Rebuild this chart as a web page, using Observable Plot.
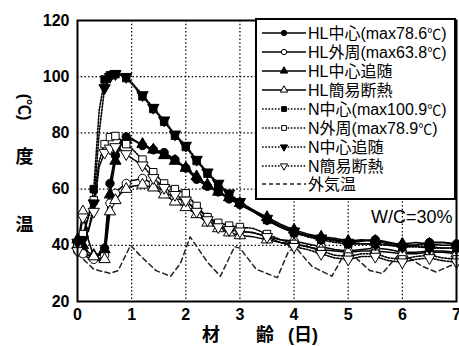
<!DOCTYPE html>
<html><head><meta charset="utf-8">
<script src="https://cdn.jsdelivr.net/npm/d3@7"></script>
<script src="https://cdn.jsdelivr.net/npm/@observablehq/plot@0.6"></script>
<style>
body{margin:0;background:#fff;}
#chart{width:459px;height:346px;}
svg{font-family:"Liberation Sans","Noto Sans CJK JP",sans-serif;}
</style></head><body><div id="chart"></div>
<script>
// ---- data ----
const days = [0,0.1,0.2,0.3,0.4,0.5,0.6,0.7,0.8,0.9,1.0,1.2,1.4,1.6,1.8,2.0,2.2,2.4,2.6,2.8,3.0,3.25,3.5,3.75,4.0,4.25,4.5,4.75,5.0,5.25,5.5,5.75,6.0,6.25,6.5,6.75,7.0];
const hlCenter      = [40,38,36.5,36,36.5,39,62,72,77,78.6,78,75.5,74,73,70.5,67.5,63.5,61,59,56.5,54.5,52,49,46.5,44.5,43.5,42.5,42,41,41.5,42,41,40,40,41,41,40.5];
const hlOuter       = [38,37,35.5,35,35,36.5,55,58.5,60.5,62,63,63.8,62,59,57,55.5,53,50,47,45.5,45,44.5,43,42,41.5,40.5,39.5,38.5,38,38.5,39,38.5,37.5,37.5,38,38,37.5];
const hlFollow      = [42,40,37.5,36.5,37,38.5,58,70,75.5,77.5,77.5,76,74,72,70,67.5,64.5,61.5,59,57,55,52.5,50,47.5,45.5,44,43,42.5,41.5,42,41.5,40.5,40.5,41,40.5,40,40];
const hlInsulated   = [40,52,42,36,34.5,35,52,56,58.5,60,61,61.5,60.5,58,55.5,53.5,51,48,46,44.5,43.5,43,42,41,40.5,39.5,38.5,38,37.5,38,38,37.5,37,37,37.5,37.5,37];
const nCenter       = [40,43,50,60,88,99,100.5,100.9,100.5,99.5,97.5,93,88.5,84,79,75,70,65.5,61.5,58,55,52,49,46.5,44.5,43,42,41,40.5,40.5,40.5,40,39.5,39.5,39.5,39,39];
const nOuter        = [40,44,50,56,70,76,78.5,78.9,77.5,76,74.5,70.5,66,62,60,58.5,54,50,48,47,46.5,46,44,42,40.5,39.5,38,36.5,36,37,37,35.5,35,36,36.5,35.5,35];
const nFollow       = [41,42,45,55,80,96,100,101,100.5,100,98,93.5,89,84.5,79.5,75.5,70.5,66,62,58.5,55.5,52.5,49.5,47,45,43.5,42.5,41.5,41,40.5,40.5,40,39.5,39.5,39,39,39];
const nInsulated    = [38,50,45,52,68,73,74.5,75,74,72.5,71,68.5,64,60.5,58,56,52,49,46.5,45.5,45,44.5,43,41,39.5,38.5,37,35.5,35,36,36,34.5,34,35,35.5,34.5,34];
const markerDays    = [0,0.1,0.3,0.5,0.6,0.7,0.9,1.2,1.4,1.6,1.8,2.0,2.2,2.4,2.6,2.8,3.0,3.5,4.0,4.5,5.0,5.5,6.0,6.5,7.0];
const outdoorDays   = [0,0.3,0.6,0.75,0.98,1.15,1.45,1.72,1.9,2.08,2.4,2.64,2.9,3.0,3.3,3.69,3.9,4.04,4.33,4.7,4.93,5.0,5.4,5.63,5.9,6.0,6.37,6.62,6.92,7.0];
const outdoorTemp   = [37,31.5,30,31,40,36.5,31,29,33.5,43,34,29,39.5,39,31.5,28.5,38,39,32.5,29,37,38,31,30,36,37,32.5,30.5,33,34];
const xTicks = [0,1,2,3,4,5,6,7];
const yTicks = [20,40,60,80,100,120];
const seriesNames = ["HL中心(max78.6℃)","HL外周(max63.8℃)","HL中心追随","HL簡易断熱","N中心(max100.9℃)","N外周(max78.9℃)","N中心追随","N簡易断熱","外気温"];
const xLabelParts = ["材","齢","(日)"];
const yLabelParts = ["温","度","(℃)"];
const noteText = "W/C=30%";

// ---- styling ----
const downTriangle = {draw(context,size){const s3=Math.sqrt(3);const y=Math.sqrt(size/(s3*3));context.moveTo(0,y*2);context.lineTo(-s3*y,-y);context.lineTo(s3*y,-y);context.closePath();}};
const upTriangle = d3.symbolTriangle;
const dotted = "1.6,1.6";
const R = 4.2;
const specs = [
  {values:hlCenter,    symbol:d3.symbolCircle, fill:"black", dash:null, sw:2},
  {values:hlOuter,     symbol:d3.symbolCircle, fill:"white", dash:null, sw:1.5},
  {values:hlFollow,    symbol:upTriangle,      fill:"black", dash:null, sw:1.5},
  {values:hlInsulated, symbol:upTriangle,      fill:"white", dash:null, sw:1.5},
  {values:nCenter,     symbol:d3.symbolSquare, fill:"black", dash:dotted, sw:1.6},
  {values:nOuter,      symbol:d3.symbolSquare, fill:"white", dash:dotted, sw:1.6},
  {values:nFollow,     symbol:downTriangle,    fill:"black", dash:dotted, sw:1.6},
  {values:nInsulated,  symbol:downTriangle,    fill:"white", dash:dotted, sw:1.6}
];
const markerSet = new Set(markerDays);
specs.forEach((s,i)=>{
  s.name=seriesNames[i];
  s.rows=days.map((d,j)=>({day:d,temp:s.values[j]}));
  s.markerRows=s.rows.filter(r=>markerSet.has(r.day));
});
const outdoorRows = outdoorDays.map((d,i)=>({day:d,temp:outdoorTemp[i]}));

const lab = {text:d=>d, fontWeight:"bold", textAnchor:"middle", lineAnchor:"middle"};
const marks = [
  Plot.gridX(xTicks.slice(1,-1), {stroke:"black", strokeOpacity:1, strokeWidth:1.2, strokeDasharray:"1.5,2.2"}),
  Plot.gridY(yTicks.slice(1,-1), {stroke:"black", strokeOpacity:1, strokeWidth:1.2, strokeDasharray:"1.5,2.2"}),
  Plot.line(outdoorRows, {x:"day", y:"temp", stroke:"#222", strokeWidth:1.5, strokeDasharray:"5,3.5"})
];
specs.forEach(s=>{
  marks.push(Plot.line(s.rows, {x:"day", y:"temp", stroke:"black", strokeWidth:s.sw, strokeDasharray:s.dash}));
});
specs.forEach(s=>{
  marks.push(Plot.dot(s.markerRows, {x:"day", y:"temp", symbol:s.symbol, r:R, fill:s.fill, stroke:"black", strokeWidth:1}));
});
marks.push(
  Plot.frame({stroke:"black", strokeWidth:2}),
  Plot.axisX(xTicks, {tickSize:0, tickPadding:7, fontSize:16, fontWeight:"bold", label:null}),
  Plot.axisY(yTicks, {tickSize:0, tickPadding:8, fontSize:16, fontWeight:"bold", label:null}),
  Plot.text([xLabelParts[0]], {...lab, frameAnchor:"bottom", dx:-56, dy:34, fontSize:18}),
  Plot.text([xLabelParts[1]], {...lab, frameAnchor:"bottom", dx:-2, dy:34, fontSize:18}),
  Plot.text([xLabelParts[2]], {...lab, frameAnchor:"bottom", dx:36, dy:34, fontSize:18}),
  Plot.text([yLabelParts[0]], {...lab, frameAnchor:"left", dx:-53, dy:64, fontSize:18}),
  Plot.text([yLabelParts[1]], {...lab, frameAnchor:"left", dx:-53, dy:-4, fontSize:18}),
  Plot.text([yLabelParts[2]], {...lab, frameAnchor:"left", dx:-53, dy:-54, rotate:90, fontSize:16}),
  Plot.text([noteText], {text:d=>d, frameAnchor:"right", textAnchor:"end", lineAnchor:"middle", dx:-4, dy:56, fontSize:18, letterSpacing:2.5})
);

const svgEl = Plot.plot({
  width:459, height:346,
  marginLeft:77, marginRight:3, marginTop:20, marginBottom:45,
  x:{domain:[0,7]}, y:{domain:[20,120]},
  style:{background:"white", color:"black"},
  marks
});
document.getElementById("chart").appendChild(svgEl);

// ---- legend inside the frame ----
const svg = d3.select(svgEl);
const lg = svg.append("g").attr("text-anchor","start");
lg.append("rect").attr("x",256).attr("y",19).attr("width",199).attr("height",180)
  .attr("fill","white").attr("stroke","black").attr("stroke-width",2);
const legendStyles = specs.map(s=>({symbol:s.symbol, fill:s.fill, dash:s.dash, sw:1.5}))
  .concat([{symbol:null, dash:"4,3", sw:1.3, stroke:"#222"}]);
seriesNames.forEach((name,i)=>{
  const y = 33 + 19*i - (i===8 ? 1 : 0);
  const st = legendStyles[i];
  lg.append("line").attr("x1",262).attr("x2",306).attr("y1",y).attr("y2",y)
    .attr("stroke",st.stroke||"black").attr("stroke-width",st.sw).attr("stroke-dasharray",st.dash);
  if (st.symbol) {
    lg.append("path").attr("d",d3.symbol(st.symbol, Math.PI*2.7*2.7)())
      .attr("transform",`translate(284,${y})`).attr("fill",st.fill).attr("stroke","black");
  }
  const t = lg.append("text").attr("x",308).attr("y",y).attr("dy","0.36em").attr("text-anchor","start")
    .attr("font-size",16);
  const parts = name.split("℃");
  parts.forEach((p,k)=>{
    t.append("tspan").text(p);
    if (k < parts.length-1) t.append("tspan").attr("font-family","Noto Sans CJK JP").attr("font-size",14).text("℃");
  });
});
</script></body></html>
